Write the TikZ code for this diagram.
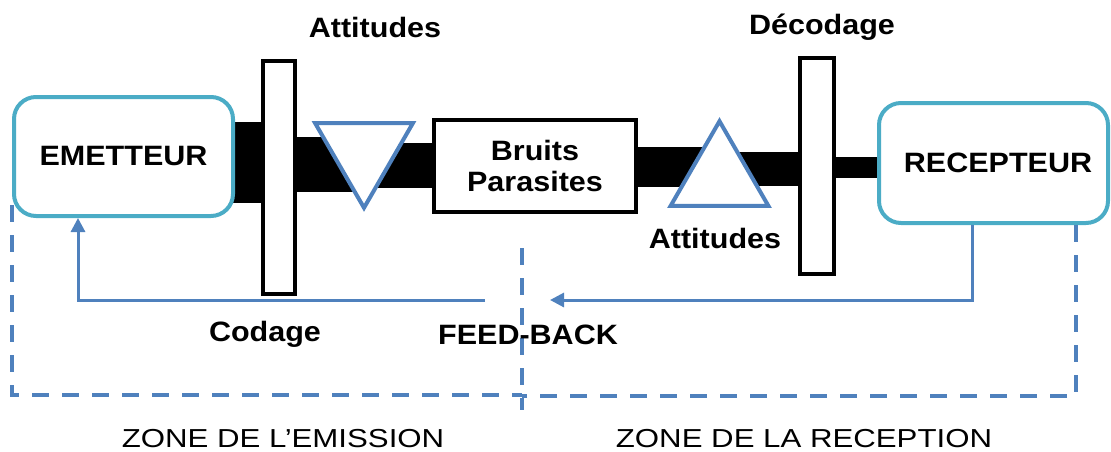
\documentclass[tikz,border=0pt]{standalone}
\usepackage{fontspec}
\setmainfont{Liberation Sans}
\newfontfamily\lblfont[FakeStretch=1.09]{Liberation Sans}
\newfontfamily\zonefont[FakeStretch=1.2]{Liberation Sans}
\usetikzlibrary{arrows.meta,shapes.geometric,backgrounds}
\definecolor{aqua}{HTML}{4BACC6}
\definecolor{blu}{HTML}{4F81BD}
\begin{document}
\begin{tikzpicture}[x=1pt,y=-1pt,
  lbl/.style={font=\lblfont\fontsize{28}{31}\selectfont\bfseries, inner sep=0pt},
  zonetxt/.style={font=\zonefont\fontsize{26}{30}\selectfont, inner sep=0pt},
  agent/.style={draw=aqua, line width=4pt, rounded corners=22pt, fill=white,
    inner sep=0pt, font=\lblfont\fontsize{28}{31}\selectfont\bfseries},
  filtre/.style={draw=black, line width=4pt, fill=white, inner sep=0pt},
  tri/.style={draw=blu, line width=4pt, fill=white, regular polygon, regular polygon sides=3,
    minimum size=113pt, inner sep=0pt},
  bar/.style={fill=black},
  fb/.style={draw=blu, line width=3pt},
  zoneline/.style={draw=blu, line width=4pt, dash pattern=on 17pt off 13pt}]
\useasboundingbox (0,0) rectangle (1111,452);
% nodes
\node[agent, minimum width=219pt, minimum height=119pt] (emetteur) at (123.5,156.5) {EMETTEUR};
\node[agent, minimum width=229pt, minimum height=120pt] (recepteur) at (993.5,163) {\hspace{9pt}RECEPTEUR};
\node[filtre, minimum width=32pt, minimum height=233pt] (f1) at (279,177.5) {};
\node[filtre, minimum width=34pt, minimum height=216pt] (f2) at (817,166) {};
\node[filtre, minimum width=202pt, minimum height=92pt, align=center,
  font=\lblfont\fontsize{28}{31}\selectfont\bfseries] (bruits) at (535,166) {Bruits\\Parasites};
\node[tri, regular polygon rotate=180] (t1) at (364,151.3) {};
\node[tri] (t2) at (719.5,177.7) {};
% thick black channel
\begin{scope}[on background layer]
  \fill[bar] (emetteur.center |- 0,122) rectangle (f1.center |- 0,203);
  \fill[bar] (f1.center |- 0,137) rectangle (t1.center |- 0,192);
  \fill[bar] (t1.center |- 0,143) rectangle (bruits.center |- 0,188);
  \fill[bar] (bruits.center |- 0,147) rectangle (t2.center |- 0,187);
  \fill[bar] (t2.center |- 0,152) rectangle (f2.center |- 0,186);
  \fill[bar] (f2.center |- 0,157) rectangle (recepteur.center |- 0,178);
\end{scope}
% labels
\node[lbl] (att1) at (375,27) {Attitudes};
\node[lbl] (deco) at (822,27) {Décodage};
\node[lbl] (att2) at (715,238) {Attitudes};
\node[lbl] (coda) at (265,334) {Codage};
% zones (dashed)
\draw[zoneline] (emetteur.west |- 0,205) -- (emetteur.west |- 0,395) -- (522,395);
\draw[zoneline] (recepteur.south -| 1076,0) -- (1076,396) -- (522,396);
\draw[zoneline] (522,248) -- (522,410);
\node[lbl, fill=none] (feed) at (528,335) {FEED-BACK};
% feedback
\coordinate (fbR) at (550,300);
\coordinate (fbL) at (485,300);
\draw[fb, -{Triangle[length=14pt,width=14pt]}] (recepteur.south -| 972,0) -- (972,300) -- (fbR);
\draw[fb, -{Triangle[length=14pt,width=14pt]}] (fbL) -- (78,300) -- (emetteur.south -| 78,0);
% zone texts
\node[zonetxt] (zem) at (283,439) {ZONE DE L’EMISSION};
\node[zonetxt] (zre) at (804,439) {ZONE DE LA RECEPTION};
\end{tikzpicture}
\end{document}
